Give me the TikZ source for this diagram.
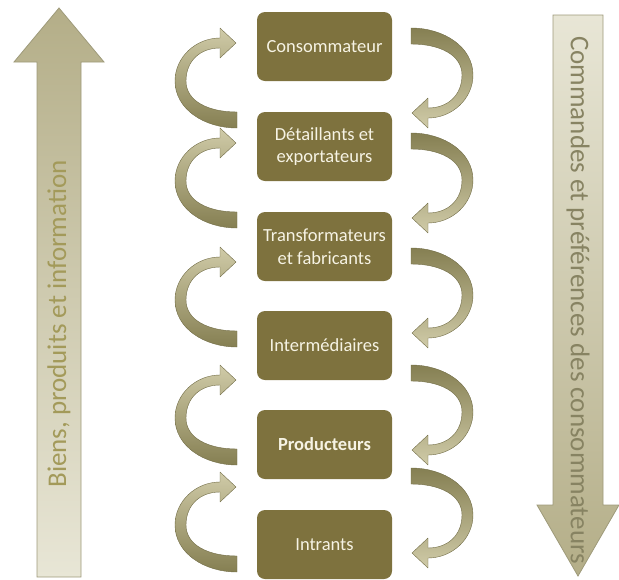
\documentclass[tikz,border=0pt]{standalone}
\usepackage{fontspec}
\setmainfont{Carlito}
\definecolor{boxolive}{RGB}{126,114,62}
\definecolor{boxtext}{RGB}{246,243,228}
\definecolor{curldark}{RGB}{133,127,82}
\definecolor{curllight}{RGB}{208,203,168}
\definecolor{bigdark}{RGB}{180,174,136}
\definecolor{biglight}{RGB}{232,230,214}
\definecolor{bigline}{RGB}{158,154,122}
\definecolor{lefttext}{RGB}{163,154,90}
\definecolor{righttext}{RGB}{135,131,98}

% curved arrow on the left: head tip at the origin, bulging to the left
\newcommand\leftcurl[2]{%
  \begin{scope}[shift={(#1,#2)}]
    \path[curlstyle, top color=curllight, bottom color=curldark]
      (0,0) -- (-16,-15) -- (-16,-5)
      .. controls (-40,-5) and (-61,14) .. (-61,38)
      .. controls (-61,66) and (-32,85) .. (1,85)
      -- (1,69)
      .. controls (-28,69) and (-50,58) .. (-50,38)
      .. controls (-50,18) and (-36,5) .. (-16,5)
      -- (-16,15) -- cycle;
  \end{scope}}

% curved arrow on the right: head tip at the origin, bulging to the right
\newcommand\rightcurl[2]{%
  \begin{scope}[shift={(#1,#2)}]
    \path[curlstyle, top color=curldark, bottom color=curllight]
      (0,0) -- (16,15) -- (16,5)
      .. controls (40,5) and (61,-14) .. (61,-38)
      .. controls (61,-66) and (32,-85) .. (-1,-85)
      -- (-1,-69)
      .. controls (28,-69) and (50,-58) .. (50,-38)
      .. controls (50,-18) and (36,-5) .. (16,-5)
      -- (16,-15) -- cycle;
  \end{scope}}

\begin{document}
\begin{tikzpicture}[x=1pt,y=-1pt,
  stage/.style={fill=boxolive, rounded corners=8pt, minimum width=135pt,
    minimum height=69pt, inner sep=0pt, text=boxtext, align=center,
    font=\fontsize{18.5}{22.5}\selectfont},
  curlstyle/.style={draw=curldark!85!black, line width=0.4pt, line join=round},
  bigarrow/.style={draw=bigline, line width=0.8pt, line join=miter},
  sidetext/.style={font=\fontsize{27}{30}\selectfont}]
\useasboundingbox (0,0) rectangle (619,579);

% flow of goods (upwards) and of orders (downwards)
\path[bigarrow, top color=bigdark, bottom color=biglight]
  (37,577) -- (37,62) -- (14,62) -- (59,8) -- (104,62) -- (81,62) -- (81,577) -- cycle;
\node[sidetext, rotate=90, text=lefttext] (goods) at (59,324) {Biens, produits et information};

\path[bigarrow, top color=biglight, bottom color=bigdark]
  (553,15) -- (603,15) -- (603,505) -- (619,505) -- (578,576) -- (537,505) -- (553,505) -- cycle;
\node[sidetext, rotate=-90, text=righttext] (orders) at (578,300) {Commandes et préférences des consommateurs};

% chain stages
\node[stage] (b1) at (324.5,46.5) {Consommateur};
\node[stage] (b2) at (324.5,146.5) {Détaillants et\\exportateurs};
\node[stage] (b3) at (324.5,246.5) {Transformateurs\\et fabricants};
\node[stage] (b4) at (324.5,345.5) {Intermédiaires};
\node[stage] (b5) at (324.5,444.5) {\bfseries Producteurs};
\node[stage] (b6) at (324.5,544.5) {Intrants};

% upward loops
\leftcurl{236}{43}
\leftcurl{236}{143}
\leftcurl{236}{262}
\leftcurl{236}{380}
\leftcurl{236}{487}

% downward loops
\rightcurl{412}{113}
\rightcurl{412}{218}
\rightcurl{412}{333}
\rightcurl{412}{450}
\rightcurl{412}{553}
\end{tikzpicture}
\end{document}
